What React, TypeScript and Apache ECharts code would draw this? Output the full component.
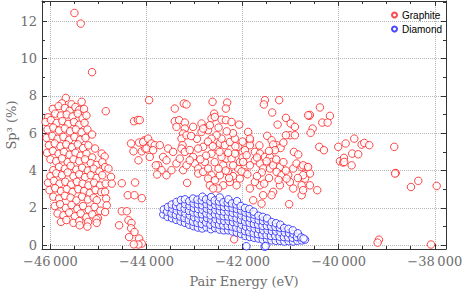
import React, { useEffect, useRef } from "react";
import * as echarts from "echarts";

const X_MIN = -46175;
const X_MAX = -37766;
const Y_MIN = -0.2;
const Y_MAX = 13.08;

const xMajorTicks = [-46000, -44000, -42000, -40000, -38000];
const xMinorTicks = [-45500, -45000, -44500, -43500, -43000, -42500, -41500, -41000, -40500, -39500, -39000, -38500];
const yMajorTicks = [0, 2, 4, 6, 8, 10, 12];
const yMinorTicks = [1, 3, 5, 7, 9, 11, 13];

const seriesNames = ["Graphite", "Diamond"];

// Graphite: dense left cluster
const graphiteLeft: number[][] = [
  [-45680, 7.89], [-45350, 7.68], [-45760, 7.6], [-45560, 7.55],
  [-45950, 7.3], [-45830, 7.45], [-45700, 7.35], [-45600, 7.2], [-45480, 7.4], [-45400, 7.25], [-45300, 7.3],
  [-46050, 6.85], [-45900, 7.05], [-45780, 6.95], [-45660, 7.0], [-45540, 6.9], [-45430, 7.05], [-45330, 6.8], [-45250, 6.95],
  [-46100, 6.6], [-45990, 6.7], [-45870, 6.55], [-45750, 6.65], [-45630, 6.5], [-45510, 6.6], [-45400, 6.45], [-45290, 6.55],
  [-46060, 6.2], [-45940, 6.3], [-45820, 6.15], [-45700, 6.25], [-45590, 6.1], [-45470, 6.2], [-45350, 6.05], [-45230, 6.2], [-45133, 5.93],
  [-46080, 5.75], [-45960, 5.85], [-45850, 5.7], [-45730, 5.8], [-45610, 5.65], [-45500, 5.8], [-45380, 5.65], [-45270, 5.75],
  [-46030, 5.35], [-45910, 5.45], [-45790, 5.3], [-45670, 5.4], [-45550, 5.25], [-45430, 5.4], [-45320, 5.2], [-45210, 5.35], [-45071, 5.18],
  [-46070, 4.95], [-45950, 5.05], [-45830, 4.9], [-45720, 5.0], [-45600, 4.85], [-45480, 4.95], [-45370, 4.8], [-45250, 4.9], [-45130, 4.7], [-44932, 4.91], [-44870, 4.75],
  [-46000, 4.6], [-45880, 4.5], [-45760, 4.65], [-45640, 4.45], [-45520, 4.6], [-45400, 4.5], [-45280, 4.6], [-45160, 4.4], [-45040, 4.3], [-44920, 4.45],
  [-45940, 4.02], [-45820, 4.2], [-45700, 4.1], [-45580, 4.25], [-45460, 4.05], [-45340, 4.15], [-45220, 4.0], [-45100, 4.1], [-44980, 3.95], [-44862, 4.19], [-44792, 4.11],
  [-46000, 3.7], [-45880, 3.85], [-45760, 3.75], [-45640, 3.9], [-45520, 3.7], [-45400, 3.8], [-45280, 3.65], [-45160, 3.75], [-45040, 3.6], [-44920, 3.75], [-44738, 3.66],
  [-46050, 3.35], [-45930, 3.45], [-45810, 3.3], [-45690, 3.4], [-45570, 3.25], [-45450, 3.4], [-45330, 3.3], [-45210, 3.2], [-45090, 3.35], [-44970, 3.2], [-44850, 3.3], [-44723, 3.3],
  [-46020, 2.95], [-45900, 3.05], [-45780, 2.9], [-45660, 3.0], [-45540, 2.85], [-45420, 3.0], [-45300, 2.9], [-45180, 2.8], [-45060, 2.95], [-44940, 2.85], [-44862, 2.86],
  [-45940, 2.6], [-45820, 2.5], [-45700, 2.65], [-45580, 2.55], [-45460, 2.4], [-45340, 2.6], [-45220, 2.45], [-45100, 2.55], [-45036, 2.41], [-44840, 2.5],
  [-45910, 2.1], [-45800, 2.2], [-45680, 2.0], [-45560, 2.15], [-45440, 1.95], [-45320, 2.1], [-45200, 1.9], [-45080, 2.05], [-44960, 1.85], [-44827, 2.14],
  [-45850, 1.7], [-45730, 1.6], [-45610, 1.75], [-45490, 1.55], [-45370, 1.7], [-45250, 1.5], [-45130, 1.65], [-45010, 1.45], [-44862, 1.78],
  [-45780, 1.25], [-45667, 1.35], [-45520, 1.2], [-45400, 1.3], [-45216, 1.25], [-45042, 1.39], [-45036, 1.2],
  [-45390, 1.07], [-45230, 1.0],
];

// Graphite: sparse outliers and the diagonal tail near -44000
const graphiteTail: number[][] = [
  [-45500, 12.44], [-45369, 11.87], [-45133, 9.27], [-44848, 7.18], [-44260, 6.64], [-44180, 6.71],
  [-44321, 5.45], [-44154, 5.5], [-44271, 5.03], [-44098, 5.03], [-44167, 4.55], [-44042, 5.62], [-44029, 5.18],
  [-44515, 3.32], [-44238, 3.36], [-44390, 2.68], [-44250, 2.68], [-44098, 2.52],
  [-44515, 1.82], [-44410, 1.82], [-44570, 1.07], [-44375, 1.34], [-44313, 1.19], [-44320, 0.91], [-44250, 0.71],
  [-44362, 0.44], [-44154, 0.36], [-44098, 0.09], [-44167, 0.04], [-44265, 0.05],
];

// Graphite: middle cloud
const graphiteMid: number[][] = [
  [-43946, 7.77], [-43411, 7.32], [-43223, 7.59], [-43167, 7.54], [-42625, 7.68], [-42321, 7.64], [-42348, 7.32], [-42592, 7.05],
  [-42646, 6.79], [-42577, 6.87], [-42438, 6.73], [-42348, 6.7], [-42071, 6.46], [-42230, 6.6],
  [-43411, 6.64], [-43321, 6.7], [-43202, 6.57], [-43376, 6.34],
  [-43202, 6.25], [-43237, 5.98], [-43271, 5.71], [-43167, 5.89], [-43250, 5.36], [-43271, 5.18], [-43202, 5.0],
  [-43030, 6.34], [-42855, 6.52], [-42786, 6.25], [-42717, 6.16], [-42681, 6.43], [-42855, 6.07], [-42821, 5.27], [-42925, 5.18],
  [-44070, 5.53], [-43967, 5.71], [-43896, 5.45], [-43827, 5.36], [-43723, 5.36], [-44000, 5.18], [-43862, 5.09], [-43932, 4.73],
  [-43758, 4.28], [-43654, 4.73], [-43550, 5.18], [-43446, 5.0], [-43584, 4.55], [-43688, 4.02], [-43584, 3.75], [-43480, 4.02],
  [-43376, 4.38], [-43307, 4.64], [-43237, 4.02], [-43167, 4.28], [-43155, 3.34], [-43030, 4.73], [-42994, 4.38], [-42925, 4.11],
  [-42925, 3.84], [-42821, 3.93], [-42786, 4.46], [-42717, 4.11], [-42646, 3.75], [-42717, 3.57], [-42681, 3.21], [-42577, 3.48],
  [-42473, 3.75], [-42404, 4.28], [-42333, 4.64], [-42438, 4.73], [-42229, 4.64], [-42160, 4.91], [-42092, 4.11], [-42057, 3.57],
  [-42125, 3.21], [-42265, 3.39], [-42404, 3.21], [-42508, 3.04], [-42612, 3.04], [-42300, 3.93], [-42196, 4.28], [-42057, 4.46],
  [-42542, 5.27], [-42473, 5.45], [-42369, 5.36], [-42265, 5.53], [-42160, 5.71], [-42092, 5.27], [-42438, 5.71], [-42542, 5.89],
  [-42646, 5.71], [-42821, 6.25], [-43806, 4.28], [-43779, 3.79], [-44140, 6.7], [-42175, 0.32],
  [-42650, 4.9], [-42580, 4.45], [-42500, 4.1], [-42350, 4.0], [-42200, 3.7], [-42480, 5.0], [-42300, 4.95], [-42150, 5.3],
  [-42000, 5.0], [-42000, 4.7], [-41950, 3.9], [-42020, 3.95], [-42280, 3.6], [-42760, 4.8], [-42880, 4.6], [-43100, 4.55],
  [-43100, 5.1], [-42720, 5.55], [-42620, 5.3], [-42000, 5.55], [-42200, 6.0], [-42330, 6.1], [-42500, 6.3], [-42950, 5.7], [-43070, 5.85],
];

// Graphite: right part of the cloud
const graphiteRight: number[][] = [
  [-41536, 7.77], [-41557, 7.54], [-41238, 7.77], [-41384, 7.11], [-40390, 7.38], [-40182, 6.93], [-40342, 6.57], [-41098, 6.82],
  [-41000, 6.52], [-40911, 6.34], [-41271, 6.46], [-40613, 6.93], [-40600, 6.98], [-40542, 6.25], [-40584, 6.02],
  [-41015, 5.89], [-41098, 5.89], [-40911, 5.89], [-41488, 5.86], [-41396, 5.62], [-41292, 5.36], [-41363, 5.39], [-41209, 5.21],
  [-41327, 5.09], [-41848, 5.62], [-41848, 5.36], [-41952, 5.09], [-41917, 4.82], [-41744, 5.0], [-41640, 4.91], [-41536, 4.73],
  [-41431, 4.73], [-41396, 4.46], [-41744, 4.55], [-41640, 4.38], [-41848, 4.28], [-41988, 4.46], [-41571, 4.11], [-41431, 4.11],
  [-41363, 4.28], [-41223, 4.19], [-41292, 3.93], [-41188, 3.75], [-41050, 3.75], [-40946, 4.11], [-40877, 4.38], [-40771, 4.19],
  [-40667, 4.19], [-40598, 3.84], [-40702, 3.57], [-40598, 3.21], [-40771, 3.21], [-40771, 2.68], [-40946, 3.04], [-41015, 3.39],
  [-41084, 3.57], [-41223, 3.21], [-41363, 2.86], [-41396, 2.68], [-41571, 2.68], [-41640, 3.21], [-41744, 3.39], [-41848, 3.04],
  [-41779, 2.41], [-41605, 2.23], [-41030, 2.2], [-40446, 2.95], [-40932, 5.0], [-40842, 4.86], [-40404, 5.27], [-40307, 5.09],
  [-40009, 5.27], [-39974, 4.5], [-39905, 4.43], [-40740, 4.28], [-40636, 4.19], [-40740, 3.75], [-40740, 2.95], [-40230, 6.57],
  [-41884, 6.07], [-41848, 5.71], [-40636, 6.96],
  [-41700, 4.7], [-41500, 4.5], [-41300, 4.6], [-41150, 4.45], [-41600, 3.9], [-41450, 3.6], [-41700, 3.7], [-41900, 3.8],
  [-41100, 4.0], [-41250, 3.5], [-40850, 3.6], [-41550, 3.3], [-41450, 5.05], [-41150, 5.5], [-41650, 5.35],
];

// Graphite: far right
const graphiteFar: number[][] = [
  [-39855, 5.45], [-39676, 5.71], [-39522, 5.39], [-39467, 5.48], [-39363, 5.36], [-39718, 4.91], [-39593, 4.87],
  [-39890, 4.68], [-39884, 4.46], [-39730, 4.28], [-38843, 5.27], [-38813, 3.87], [-38827, 3.84], [-38495, 3.12],
  [-38343, 3.45], [-37960, 3.18], [-39161, 0.3], [-39189, 0.14], [-38078, 0.04],
];

// Diamond
const diamond: number[][] = [
  [-43650, 1.65], [-43640, 1.92],
  [-43560, 1.52], [-43570, 1.8], [-43555, 2.05],
  [-43470, 1.45], [-43480, 1.7], [-43460, 1.96], [-43475, 2.18],
  [-43380, 1.36], [-43390, 1.62], [-43370, 1.86], [-43385, 2.1], [-43375, 2.32],
  [-43290, 1.28], [-43300, 1.54], [-43280, 1.8], [-43295, 2.04], [-43285, 2.42],
  [-43200, 1.2], [-43210, 1.46], [-43190, 1.7], [-43205, 1.96], [-43195, 2.2], [-43200, 2.46],
  [-43110, 1.1], [-43120, 1.34], [-43100, 1.6], [-43115, 1.84], [-43105, 2.1], [-43110, 2.36],
  [-43020, 1.02], [-43030, 1.26], [-43010, 1.5], [-43025, 1.76], [-43015, 2.0], [-43020, 2.24], [-43030, 2.5],
  [-42930, 0.95], [-42940, 1.2], [-42920, 1.44], [-42935, 1.7], [-42925, 1.94], [-42930, 2.2], [-42940, 2.44],
  [-42840, 0.9], [-42850, 1.14], [-42830, 1.4], [-42845, 1.66], [-42835, 1.9], [-42840, 2.14], [-42850, 2.4], [-42835, 2.6],
  [-42750, 0.96], [-42760, 1.22], [-42740, 1.46], [-42755, 1.7], [-42745, 1.96], [-42750, 2.2], [-42760, 2.46],
  [-42660, 0.86], [-42670, 1.1], [-42650, 1.36], [-42665, 1.6], [-42655, 1.86], [-42660, 2.1], [-42670, 2.34], [-42655, 2.58],
  [-42570, 0.92], [-42580, 1.16], [-42560, 1.4], [-42575, 1.66], [-42565, 1.9], [-42570, 2.16], [-42580, 2.4],
  [-42480, 0.84], [-42490, 1.1], [-42470, 1.34], [-42485, 1.6], [-42475, 1.84], [-42480, 2.1], [-42490, 2.34], [-42475, 2.56],
  [-42390, 0.8], [-42400, 1.06], [-42380, 1.3], [-42395, 1.56], [-42385, 1.8], [-42390, 2.06], [-42400, 2.3],
  [-42300, 0.8], [-42310, 1.04], [-42290, 1.3], [-42305, 1.54], [-42295, 1.8], [-42300, 2.04], [-42310, 2.28], [-42295, 2.46],
  [-42210, 0.74], [-42220, 1.0], [-42200, 1.24], [-42215, 1.5], [-42205, 1.74], [-42210, 2.0], [-42220, 2.24],
  [-42120, 0.68], [-42130, 0.94], [-42110, 1.2], [-42125, 1.44], [-42115, 1.7], [-42120, 1.94], [-42130, 2.18], [-42115, 2.36],
  [-42030, 0.6], [-42040, 0.86], [-42020, 1.1], [-42035, 1.36], [-42025, 1.6], [-42030, 1.86], [-42040, 2.1],
  [-41940, 0.5], [-41950, 0.76], [-41930, 1.0], [-41945, 1.26], [-41935, 1.5], [-41940, 1.76], [-41950, 2.0],
  [-41850, 0.44], [-41860, 0.7], [-41840, 0.96], [-41855, 1.2], [-41845, 1.46], [-41850, 1.7], [-41860, 1.94],
  [-41760, 0.4], [-41770, 0.64], [-41750, 0.9], [-41765, 1.14], [-41755, 1.4], [-41760, 1.64], [-41770, 1.8],
  [-41670, 0.36], [-41680, 0.6], [-41660, 0.86], [-41675, 1.1], [-41665, 1.34], [-41670, 1.58],
  [-41580, 0.3], [-41590, 0.56], [-41570, 0.8], [-41585, 1.04], [-41575, 1.3], [-41580, 1.52],
  [-41490, 0.3], [-41500, 0.54], [-41480, 0.8], [-41495, 1.04], [-41485, 1.28], [-41490, 1.44],
  [-41400, 0.26], [-41410, 0.5], [-41390, 0.76], [-41405, 1.0], [-41395, 1.24],
  [-41310, 0.24], [-41320, 0.5], [-41300, 0.74], [-41315, 0.98], [-41305, 1.18],
  [-41220, 0.24], [-41230, 0.46], [-41210, 0.7], [-41225, 0.94], [-41215, 1.1],
  [-41130, 0.2], [-41140, 0.44], [-41120, 0.68], [-41135, 0.92],
  [-41040, 0.22], [-41050, 0.42], [-41030, 0.64], [-41045, 0.88],
  [-40950, 0.2], [-40960, 0.4], [-40940, 0.6], [-40955, 0.8],
  [-40860, 0.24], [-40870, 0.44], [-40850, 0.64],
  [-40770, 0.26], [-40780, 0.42],
  [-40700, 0.3], [-40730, 0.36],
  [-41920, -0.05], [-41540, -0.08], [-41520, -0.04],
];

const graphite = [...graphiteLeft, ...graphiteTail, ...graphiteMid, ...graphiteRight, ...graphiteFar];

const RED = "#ff1a1a";
const BLUE = "#1a1aff";
const FRAME = "#333333";
const LABEL = "#6e6e6e";
const SERIF = "'DejaVu Serif', serif";

function fmtX(v: number): string {
  const s = String(Math.abs(Math.round(v)));
  const body = s.length > 3 ? s.slice(0, -3) + "\u2009" + s.slice(-3) : s;
  return (v < 0 ? "\u2212" : "") + body;
}

export default function App() {
  const ref = useRef<HTMLDivElement>(null);
  useEffect(() => {
    if (!ref.current) return;
    const chart = echarts.init(ref.current, null, { renderer: "svg" });
    const lineStyle = { color: FRAME, width: 1 };
    const xBase = { type: "value", min: X_MIN, max: X_MAX, gridIndex: 0 };
    const yBase = { type: "value", min: Y_MIN, max: Y_MAX, gridIndex: 0 };
    const majorTick = (vals: number[]) => ({ show: true, inside: true, length: 5, customValues: vals, lineStyle });
    const minorTick = (vals: number[]) => ({ show: true, inside: true, length: 3, customValues: vals, lineStyle });
    const option: any = {
      animation: false,
      backgroundColor: "#ffffff",
      grid: { left: 42, right: 17, top: 1, bottom: 41, containLabel: false, outerBoundsMode: "none" },
      legend: {
        show: true,
        orient: "vertical",
        left: 386,
        top: 5,
        itemWidth: 5,
        itemHeight: 5,
        itemGap: 4,
        data: seriesNames,
        textStyle: { fontFamily: "'Liberation Sans', Arial, sans-serif", fontSize: 10, color: "#000" },
      },
      xAxis: [
        {
          ...xBase,
          position: "bottom",
          axisLine: { show: true, onZero: false, lineStyle },
          axisTick: majorTick(xMajorTicks),
          axisLabel: { show: true, customValues: xMajorTicks, formatter: fmtX, color: LABEL, fontFamily: SERIF, fontSize: 13, margin: 6 },
          splitLine: { show: true, lineStyle: { type: "dotted", color: "#b5b5b5", width: 1 } },
          name: "Pair Energy (eV)",
          nameLocation: "middle",
          nameGap: 26,
          nameMoveOverlap: false,
          nameTextStyle: { color: LABEL, fontFamily: SERIF, fontSize: 13 },
        },
        { ...xBase, position: "bottom", axisLine: { show: false, onZero: false }, axisTick: minorTick(xMinorTicks), axisLabel: { show: false }, splitLine: { show: false } },
        { ...xBase, position: "top", axisLine: { show: true, onZero: false, lineStyle }, axisTick: majorTick(xMajorTicks), axisLabel: { show: false }, splitLine: { show: false } },
        { ...xBase, position: "top", axisLine: { show: false, onZero: false }, axisTick: minorTick(xMinorTicks), axisLabel: { show: false }, splitLine: { show: false } },
      ],
      yAxis: [
        {
          ...yBase,
          position: "left",
          axisLine: { show: true, onZero: false, lineStyle },
          axisTick: majorTick(yMajorTicks),
          axisLabel: { show: true, customValues: yMajorTicks, color: LABEL, fontFamily: SERIF, fontSize: 13, margin: 5 },
          splitLine: { show: true, lineStyle: { type: "dotted", color: "#b5b5b5", width: 1 } },
          name: "Sp\u00b3 (%)",
          nameLocation: "middle",
          nameGap: 24,
          nameMoveOverlap: false,
          nameTextStyle: { color: LABEL, fontFamily: SERIF, fontSize: 13 },
        },
        { ...yBase, position: "left", axisLine: { show: false, onZero: false }, axisTick: minorTick(yMinorTicks), axisLabel: { show: false }, splitLine: { show: false } },
        { ...yBase, position: "right", axisLine: { show: true, onZero: false, lineStyle }, axisTick: majorTick(yMajorTicks), axisLabel: { show: false }, splitLine: { show: false } },
        { ...yBase, position: "right", axisLine: { show: false, onZero: false }, axisTick: minorTick(yMinorTicks), axisLabel: { show: false }, splitLine: { show: false } },
      ],
      series: [
        {
          name: seriesNames[0],
          type: "scatter",
          xAxisIndex: 0,
          yAxisIndex: 0,
          data: graphite,
          symbol: "circle",
          symbolSize: 7.5,
          itemStyle: { color: "#ffffff", borderColor: RED, borderWidth: 1 },
        },
        {
          name: seriesNames[1],
          type: "scatter",
          xAxisIndex: 0,
          yAxisIndex: 0,
          data: diamond,
          symbol: "circle",
          symbolSize: 7.5,
          itemStyle: { color: "#ffffff", borderColor: BLUE, borderWidth: 1 },
        },
      ],
    };
    chart.setOption(option);
    return () => chart.dispose();
  }, []);
  return <div ref={ref} style={{ position: "fixed", left: 0, top: 0, width: 463, height: 290 }} />;
}
